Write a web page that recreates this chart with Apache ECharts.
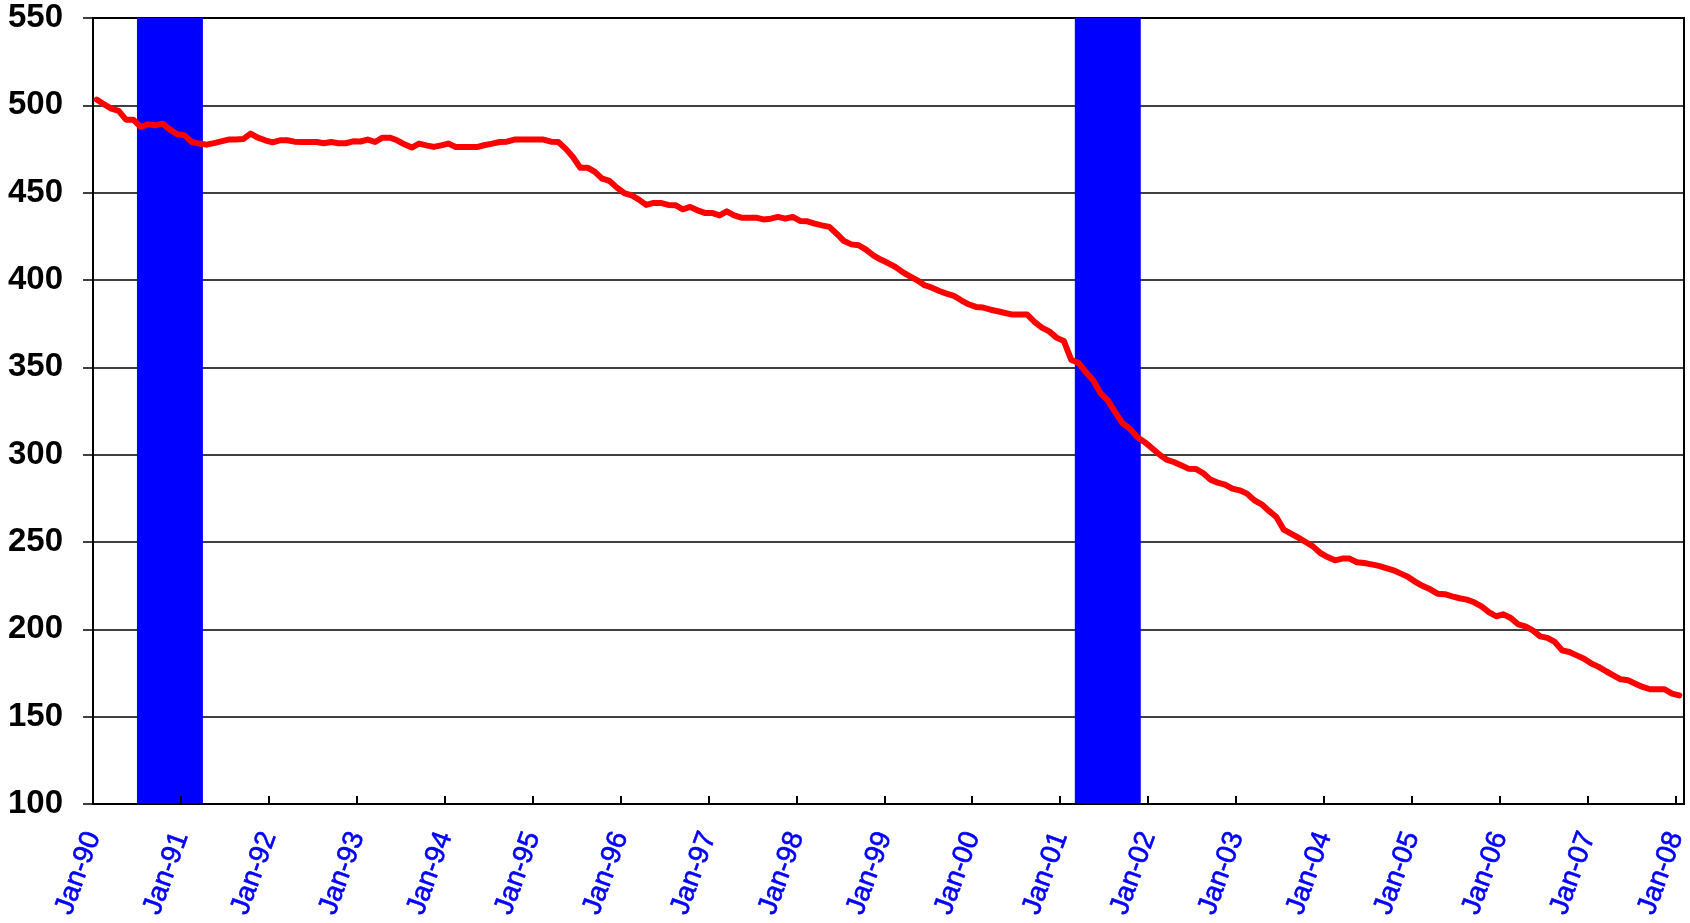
<!DOCTYPE html>
<html>
<head>
<meta charset="utf-8">
<title>Monthly series 1990-2008</title>
<script src="https://cdn.jsdelivr.net/npm/echarts@6/dist/echarts.min.js"></script>
<style>
  html, body { margin: 0; padding: 0; background: #fff; }
  #chart { width: 1690px; height: 923px; }
</style>
</head>
<body>
<div id="chart"></div>
<script>
// tick labels, one per January
const yearLabels = ['Jan-90', 'Jan-91', 'Jan-92', 'Jan-93', 'Jan-94', 'Jan-95', 'Jan-96',
  'Jan-97', 'Jan-98', 'Jan-99', 'Jan-00', 'Jan-01', 'Jan-02', 'Jan-03', 'Jan-04',
  'Jan-05', 'Jan-06', 'Jan-07', 'Jan-08'];

// monthly values, Jan-90 .. Jan-08 (one row per year)
const values = [
  503.3, 500.6, 498.1, 496.8, 491.8, 491.8, 487.6, 489.1, 488.6, 489.5, 486.1, 483.4,
  482.8, 479.0, 478.1, 477.5, 478.4, 479.4, 480.4, 480.4, 480.7, 483.8, 481.5, 480.0,
  478.8, 480.0, 480.0, 479.2, 479.0, 479.0, 479.0, 478.3, 479.0, 478.3, 478.3, 479.4,
  479.3, 480.4, 479.0, 481.5, 481.5, 480.0, 477.7, 475.8, 478.1, 477.1, 476.2, 477.1,
  478.1, 476.2, 476.2, 476.2, 476.2, 477.3, 478.1, 479.0, 479.2, 480.4, 480.4, 480.4,
  480.4, 480.4, 479.2, 479.0, 475.2, 470.4, 464.3, 464.3, 461.9, 458.0, 456.7, 452.9,
  449.8, 448.5, 446.0, 443.0, 444.1, 444.1, 443.0, 442.8, 440.5, 441.8, 439.9, 438.4,
  438.4, 437.0, 439.3, 437.0, 435.7, 435.7, 435.7, 434.7, 435.1, 436.1, 435.1, 436.1,
  433.8, 433.6, 432.3, 431.3, 430.4, 426.5, 422.3, 420.4, 419.9, 417.4, 414.1, 411.7,
  409.7, 407.5, 404.5, 402.1, 399.8, 397.0, 395.6, 393.7, 392.2, 390.9, 388.4, 386.1,
  384.6, 384.2, 383.0, 382.1, 381.1, 380.2, 380.2, 380.2, 376.0, 372.7, 370.6, 367.0,
  365.1, 354.4, 352.5, 347.3, 342.6, 335.3, 331.1, 324.4, 318.1, 314.9, 310.1, 307.3,
  303.8, 300.2, 297.2, 295.8, 293.9, 292.0, 291.8, 289.5, 285.7, 284.0, 282.9, 280.6,
  279.6, 277.7, 273.9, 271.6, 267.8, 264.3, 257.1, 254.8, 252.5, 250.0, 247.5, 243.7,
  241.4, 239.5, 240.5, 240.5, 238.4, 238.0, 237.2, 236.3, 235.1, 233.8, 231.9, 230.0,
  227.1, 224.8, 222.9, 220.4, 220.1, 218.9, 217.8, 217.0, 215.5, 213.2, 209.9, 207.5,
  208.6, 206.5, 202.9, 201.7, 199.4, 196.0, 195.1, 192.8, 188.0, 187.0, 185.1, 183.2,
  180.4, 178.5, 176.0, 173.7, 171.4, 170.8, 168.9, 167.0, 165.7, 165.7, 165.7, 163.2,
  162.2
];

// recessions as [start month, end month] counted from Jan-90
const recessions = [[6, 15], [134, 143]];

const chart = echarts.init(document.getElementById('chart'));

// points sit in the middle of their month
const lineData = values.map((v, i) => [i + 0.5, v]);

const option = {
  backgroundColor: '#fff',
  animation: false,
  grid: {
    left: 93,
    right: 6,
    top: 18,
    bottom: 119,
    show: true,
    borderColor: '#000',
    borderWidth: 2,
    outerBoundsMode: 'none'
  },
  xAxis: {
    type: 'value',
    min: 0,
    max: 217.14,
    interval: 12,
    z: 3,
    axisLine: { show: true, lineStyle: { color: '#000', width: 2 } },
    axisTick: { show: true, inside: true, length: 8, lineStyle: { color: '#000', width: 2 } },
    splitLine: { show: false },
    axisLabel: {
      rotate: 70,
      margin: 29,
      color: '#0000FF',
      // a thin stroke of the same blue makes the glyphs a little heavier
      textBorderColor: '#0000FF',
      textBorderWidth: 0.6,
      fontFamily: 'Liberation Sans, Arial, sans-serif',
      fontSize: 28,
      showMaxLabel: false,
      formatter: v => (v % 12 === 0 ? yearLabels[v / 12] || '' : '')
    }
  },
  yAxis: {
    type: 'value',
    min: 100,
    max: 550,
    interval: 50,
    axisLine: { show: true, lineStyle: { color: '#000', width: 2 } },
    axisTick: { show: true, length: 10, lineStyle: { color: '#000', width: 1.5 } },
    splitLine: { show: true, lineStyle: { color: '#000', width: 1.5 } },
    axisLabel: {
      margin: 30,
      color: '#000',
      fontFamily: 'Liberation Sans, Arial, sans-serif',
      fontWeight: 'bold',
      fontSize: 33
    }
  },
  series: [
    {
      type: 'line',
      data: lineData,
      showSymbol: false,
      symbol: 'none',
      lineStyle: { color: '#FF0000', width: 6, join: 'round', cap: 'round' },
      markArea: {
        silent: true,
        itemStyle: { color: '#0000FF', opacity: 1 },
        data: recessions.map(r => [{ xAxis: r[0] }, { xAxis: r[1] }])
      },
      z: 2
    }
  ]
};

chart.setOption(option);
window.addEventListener('resize', chart.resize);
</script>
</body>
</html>
